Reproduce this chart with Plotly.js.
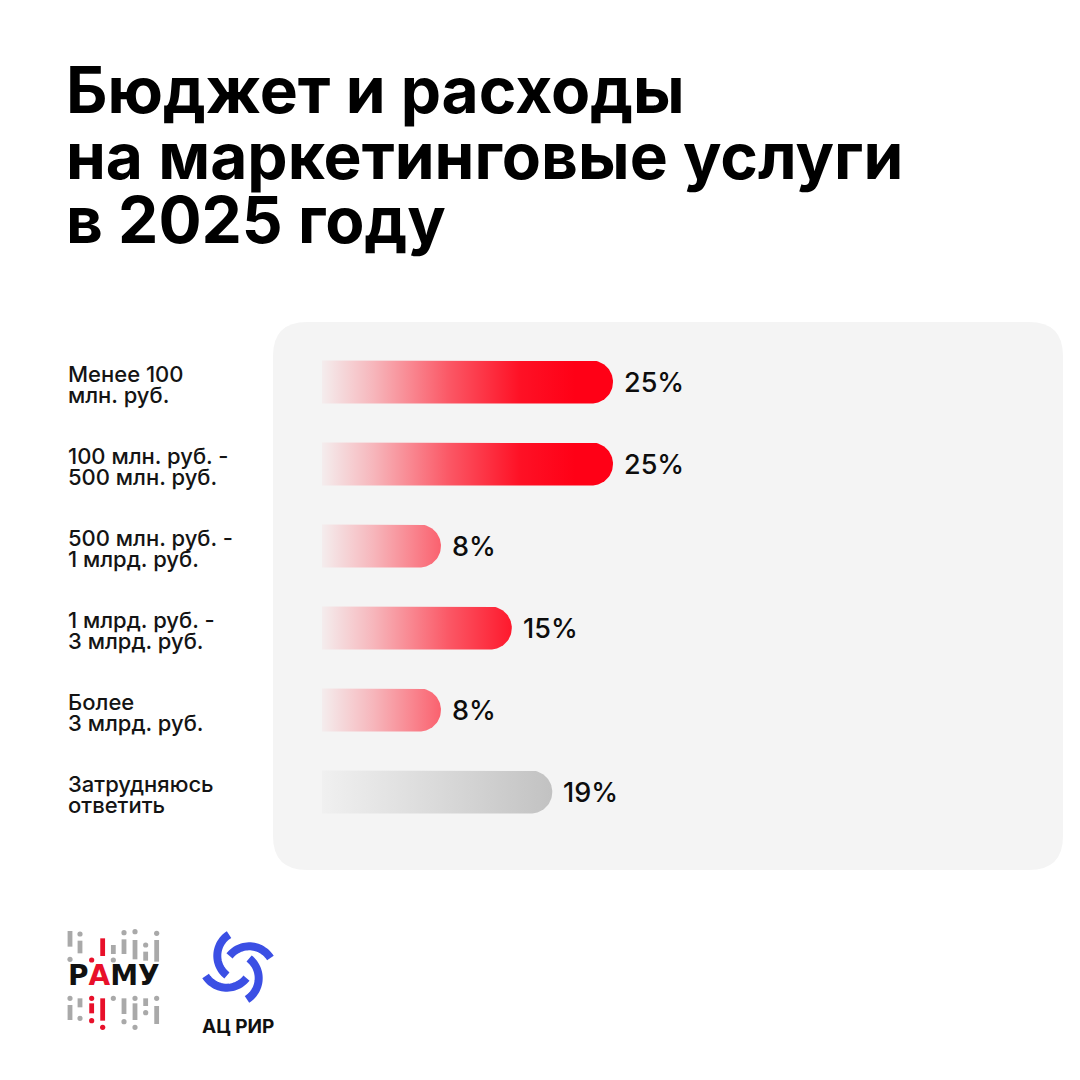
<!DOCTYPE html>
<html>
<head>
<meta charset="utf-8">
<script src="https://cdn.plot.ly/plotly-3.0.1.min.js"></script>
<style>
  html, body { margin: 0; padding: 0; background: #ffffff; }
  #chart { width: 1080px; height: 1080px; }
</style>
</head>
<body>
<div id="chart"></div>
<script>
// ---------------- DATA ----------------
const titleLines = ['Бюджет и расходы', 'на маркетинговые услуги', 'в 2025 году'];
const categories = [
  'Менее 100<br>млн. руб.',
  '100 млн. руб. -<br>500 млн. руб.',
  '500 млн. руб. -<br>1 млрд. руб.',
  '1 млрд. руб. -<br>3 млрд. руб.',
  'Более<br>3 млрд. руб.',
  'Затрудняюсь<br>ответить'
];
const values = [25, 25, 8, 15, 8, 19];
const valueLabels = ['25%', '25%', '8%', '15%', '8%', '19%'];
const neutralCategory = 'Затрудняюсь<br>ответить';

// ---------------- LAYOUT CONSTANTS (pixels) ----------------
const W = 1080, H = 1080;
const zeroPx = 360;          // pixel x of value 0
const pxPerUnit = 10.12;     // pixels per percentage point
const firstRowPx = 382;      // pixel y of first row centre
const rowStepPx = 82;        // row spacing
const barStartPx = 322;      // where the faded bar begins
const barHalfPx = 21.5;      // half bar thickness
const gradStopPx = 575;      // where red gradient reaches full colour

const xRange = [-zeroPx / pxPerUnit, (W - zeroPx) / pxPerUnit];
const yRange = [(H - firstRowPx) / rowStepPx, -firstRowPx / rowStepPx];
const toX = px => (px - zeroPx) / pxPerUnit;
const barBase = toX(barStartPx);
const hY = barHalfPx / rowStepPx;
const rX = barHalfPx / pxPerUnit;

const redScale = [
  [0, 'rgba(255,0,22,0.03)'],
  [0.2, 'rgba(255,0,22,0.25)'],
  [0.5, 'rgba(255,0,22,0.64)'],
  [0.78, 'rgba(255,0,22,0.93)'],
  [1, 'rgba(255,0,22,1)']
];
const grayScale = [
  [0, 'rgba(196,196,196,0.08)'],
  [0.5, 'rgba(196,196,196,0.55)'],
  [1, 'rgba(194,194,194,1)']
];

// ---------------- TRACES ----------------
function pillPolygon(v, i) {
  const xs = [], ys = [];
  xs.push(barBase); ys.push(i - hY);
  const cx = v - rX;
  const n = 40;
  for (let k = 0; k <= n; k++) {
    const t = -Math.PI / 2 + Math.PI * k / n;
    xs.push(cx + rX * Math.cos(t));
    ys.push(i + hY * Math.sin(t));
  }
  xs.push(barBase); ys.push(i + hY);
  xs.push(barBase); ys.push(i - hY);
  return { xs, ys };
}

const traces = categories.map((cat, i) => {
  const p = pillPolygon(values[i], i);
  const neutral = cat === neutralCategory;
  return {
    type: 'scatter',
    mode: 'lines',
    x: p.xs,
    y: p.ys,
    fill: 'toself',
    line: { width: 0, color: 'rgba(0,0,0,0)' },
    fillgradient: neutral
      ? { type: 'horizontal', colorscale: grayScale, start: barBase, stop: values[i] }
      : { type: 'horizontal', colorscale: redScale, start: barBase, stop: toX(gradStopPx) },
    hoverinfo: 'skip',
    showlegend: false
  };
});

// ---------------- HELPERS (pixel -> paper) ----------------
const PX = x => (x / W).toFixed(5);
const PY = y => (1 - y / H).toFixed(5);
function roundedRect(x0, y0, x1, y1, r) {
  return `M ${PX(x0 + r)},${PY(y0)} L ${PX(x1 - r)},${PY(y0)} Q ${PX(x1)},${PY(y0)} ${PX(x1)},${PY(y0 + r)} ` +
         `L ${PX(x1)},${PY(y1 - r)} Q ${PX(x1)},${PY(y1)} ${PX(x1 - r)},${PY(y1)} ` +
         `L ${PX(x0 + r)},${PY(y1)} Q ${PX(x0)},${PY(y1)} ${PX(x0)},${PY(y1 - r)} ` +
         `L ${PX(x0)},${PY(y0 + r)} Q ${PX(x0)},${PY(y0)} ${PX(x0 + r)},${PY(y0)} Z`;
}

const shapes = [];
// background panel
shapes.push({
  type: 'path', xref: 'paper', yref: 'paper', layer: 'below',
  path: roundedRect(273, 322, 1063, 870, 34),
  fillcolor: '#f4f4f4', line: { width: 0 }
});

// ---- РАМУ logo decoration (dashes & dots) ----
const G = '#a9a9a9', R = '#e8102a';
const ox = 55, oy = 920, s = 1 / 3;
const logoCols = [
  [45, G, [[33, 80], [255, 300]], [118, 235]],
  [75, G, [[62, 100], [235, 262]], [42, 295]],
  [110, R, [[250, 280]], [120, 235, 302]],
  [143, R, [[55, 108], [235, 302]], [322]],
  [175, G, [[75, 102]], [120, 235]],
  [207, G, [[58, 102], [235, 282]], [38, 305]],
  [240, G, [[60, 118], [250, 300]], [35, 235, 322]],
  [272, G, [[95, 122], [235, 258]], [75, 278]],
  [305, G, [[60, 125], [258, 312]], [40, 235]]
];
logoCols.forEach(([zx, col, dashes, dots]) => {
  const x = ox + zx * s;
  dashes.forEach(([a, b]) => {
    shapes.push({ type: 'rect', xref: 'paper', yref: 'paper',
      x0: PX(x - 2.4), x1: PX(x + 2.4), y0: PY(oy + b * s), y1: PY(oy + a * s),
      fillcolor: col, line: { width: 0 } });
  });
  dots.forEach(d => {
    const y = oy + d * s;
    shapes.push({ type: 'circle', xref: 'paper', yref: 'paper',
      x0: PX(x - 2.6), x1: PX(x + 2.6), y0: PY(y + 2.6), y1: PY(y - 2.6),
      fillcolor: col, line: { width: 0 } });
  });
});

// ---- АЦ РИР swirl (pinwheel of four arcs) ----
const sc = [238, 967];
for (let k = 0; k < 4; k++) {
  const dir = (21 + 90 * k) * Math.PI / 180;
  const cx = sc[0] + 12 * Math.cos(dir), cy = sc[1] + 12 * Math.sin(dir);
  const Rr = 25;
  const a0 = (-142 + 90 * k) * Math.PI / 180, a1 = (-32 + 90 * k) * Math.PI / 180;
  let path = '';
  const n = 28;
  for (let j = 0; j <= n; j++) {
    const t = a0 + (a1 - a0) * j / n;
    const px = cx + Rr * Math.cos(t), py = cy + Rr * Math.sin(t);
    path += (j === 0 ? 'M ' : ' L ') + PX(px) + ',' + PY(py);
  }
  shapes.push({ type: 'path', xref: 'paper', yref: 'paper', path,
    line: { color: '#3b4fe4', width: 8 }, fillcolor: 'rgba(0,0,0,0)' });
}

// ---------------- ANNOTATIONS ----------------
const annotations = [];
const titleFont = { family: 'Inter, "Noto Sans", sans-serif', size: 64, color: '#000000', weight: 700 };
const titleCentres = [90, 156, 219];
titleLines.forEach((t, k) => {
  annotations.push({
    xref: 'paper', yref: 'paper', x: PX(64), y: PY(titleCentres[k]),
    xanchor: 'left', yanchor: 'middle', showarrow: false, text: t, font: titleFont
  });
});

const labelFont = { family: 'Inter, "Noto Sans", sans-serif', size: 22, color: '#141414', weight: 500 };
categories.forEach((cat, i) => {
  const lines = cat.split('<br>');
  const shifts = [8, -13];
  lines.forEach((ln, k) => {
    annotations.push({
      xref: 'paper', yref: 'y', x: PX(66), y: i, yshift: shifts[k],
      xanchor: 'left', yanchor: 'middle', showarrow: false, text: ln, font: labelFont
    });
  });
  annotations.push({
    xref: 'x', yref: 'y', x: values[i], y: i, xshift: 9, yshift: 0,
    xanchor: 'left', yanchor: 'middle', showarrow: false, text: valueLabels[i],
    font: { family: 'Inter, "Noto Sans", sans-serif', size: 27, color: '#0d0d0d', weight: 500 }
  });
});

// logos text
annotations.push({
  xref: 'paper', yref: 'paper', x: PX(114), y: PY(976), xanchor: 'center', yanchor: 'middle',
  showarrow: false, text: 'Р<span style="color:#e8102a">А</span>МУ',
  font: { family: '"DejaVu Sans", sans-serif', size: 28, color: '#111111', weight: 700 }
});
annotations.push({
  xref: 'paper', yref: 'paper', x: PX(238), y: PY(1026), xanchor: 'center', yanchor: 'middle',
  showarrow: false, text: 'АЦ РИР',
  font: { family: 'Inter, "Noto Sans", sans-serif', size: 19, color: '#111111', weight: 700 }
});

const layout = {
  width: W, height: H,
  margin: { l: 0, r: 0, t: 0, b: 0 },
  paper_bgcolor: '#ffffff', plot_bgcolor: 'rgba(0,0,0,0)',
  xaxis: { range: xRange, visible: false, fixedrange: true, domain: [0, 1] },
  yaxis: { range: yRange, visible: false, fixedrange: true, domain: [0, 1] },
  shapes, annotations, showlegend: false
};

Plotly.newPlot('chart', traces, layout, { displayModeBar: false, staticPlot: true });
</script>
</body>
</html>
